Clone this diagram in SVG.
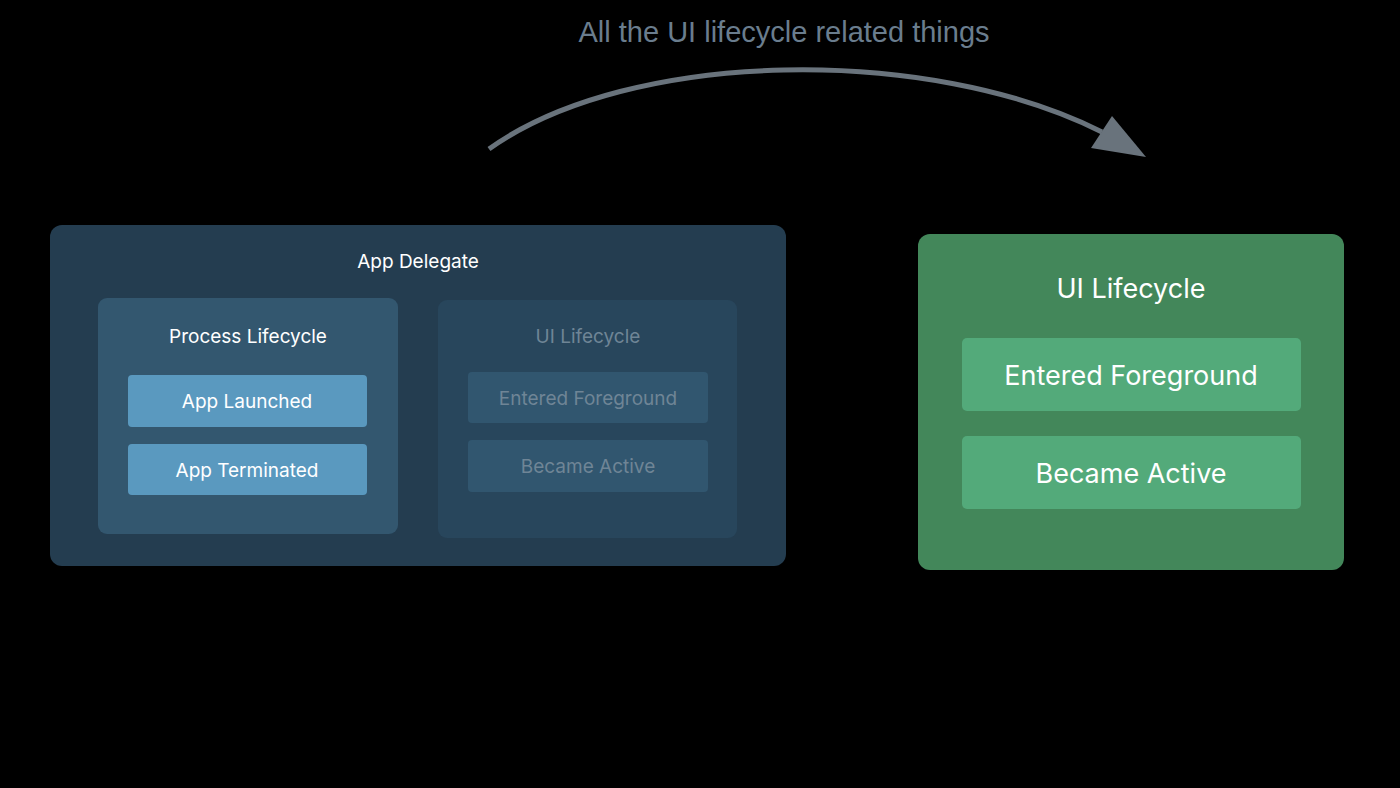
<svg xmlns="http://www.w3.org/2000/svg" width="1400" height="788" viewBox="0 0 1400 788">
<style>
text{font-family:Inter,"Liberation Sans",sans-serif;text-anchor:middle}
.w{fill:#ffffff}
.f{fill:#6f8596}
.t19{font-size:19px}
.t27{font-size:27px}
</style>
<rect width="1400" height="788" fill="#000"/>
<text x="784" y="42" style="font-family:'Liberation Sans',sans-serif;font-size:29px;fill:#6a7d8e">All the UI lifecycle related things</text>
<g id="connectors">
<path d="M489,149 C630,48 930,45 1102,132" fill="none" stroke="#69737c" stroke-width="5"/>
<polygon points="1146,157 1091,148 1112,116" fill="#69737c"/>
</g>
<g id="app-delegate">
<rect x="50" y="225" width="736" height="341" rx="12" fill="#243d50"/>
<text class="w t19" x="418" y="268">App Delegate</text>
</g>
<g id="process-lifecycle">
<rect x="98" y="298" width="300" height="236" rx="9" fill="#33576f"/>
<text class="w t19" x="248" y="343">Process Lifecycle</text>
</g>
<g id="app-launched">
<rect x="128" y="375" width="239" height="52" rx="4" fill="#5a99bf"/>
<text class="w t19" x="247" y="408">App Launched</text>
</g>
<g id="app-terminated">
<rect x="128" y="444" width="239" height="51" rx="4" fill="#5a99bf"/>
<text class="w t19" x="247" y="477">App Terminated</text>
</g>
<g id="ui-lifecycle-faded">
<rect x="438" y="300" width="299" height="238" rx="9" fill="#28465c"/>
<text class="f t19" x="588" y="343">UI Lifecycle</text>
</g>
<g id="entered-foreground-faded">
<rect x="468" y="372" width="240" height="51" rx="4" fill="#31566f"/>
<text class="f t19" x="588" y="405">Entered Foreground</text>
</g>
<g id="became-active-faded">
<rect x="468" y="440" width="240" height="52" rx="4" fill="#31566f"/>
<text class="f t19" x="588" y="473">Became Active</text>
</g>
<g id="ui-lifecycle">
<rect x="918" y="234" width="426" height="336" rx="12" fill="#43875a"/>
<text class="w t27" x="1131" y="298">UI Lifecycle</text>
</g>
<g id="entered-foreground">
<rect x="962" y="338" width="339" height="73" rx="5" fill="#53aa7a"/>
<text class="w t27" x="1131" y="385">Entered Foreground</text>
</g>
<g id="became-active">
<rect x="962" y="436" width="339" height="73" rx="5" fill="#53aa7a"/>
<text class="w t27" x="1131" y="483">Became Active</text>
</g>
</svg>
